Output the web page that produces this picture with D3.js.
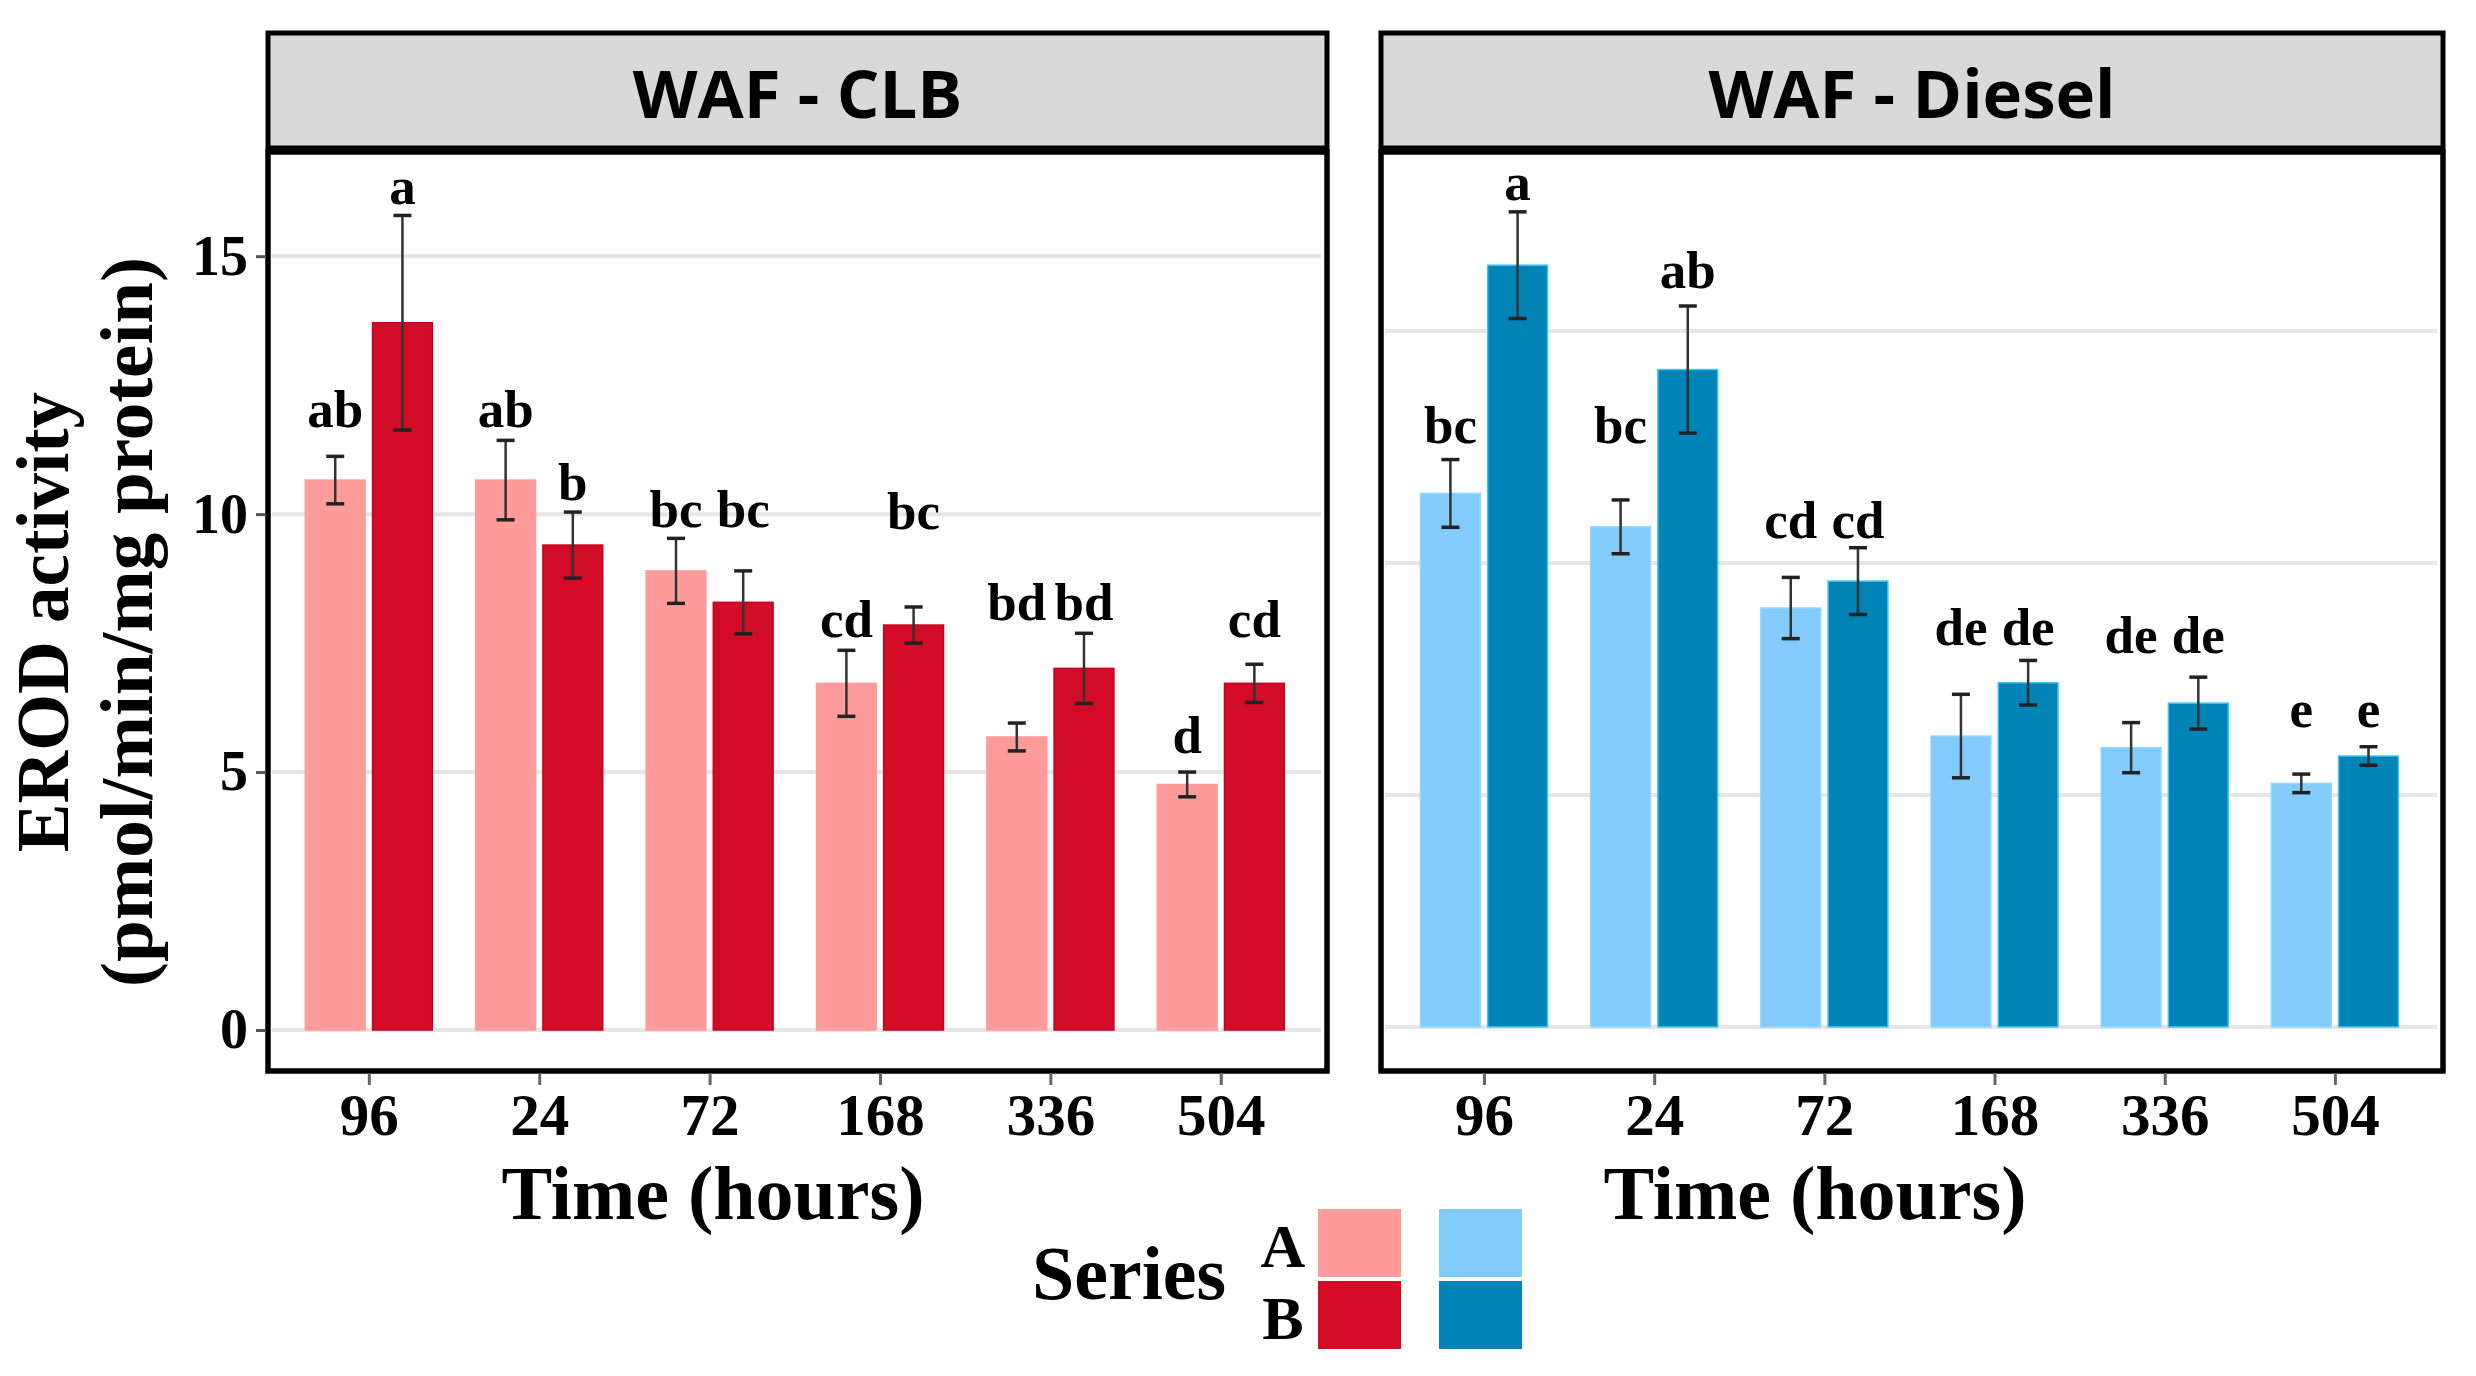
<!DOCTYPE html>
<html>
<head>
  <meta charset="utf-8">
  <title>EROD activity</title>
  <script src="https://d3js.org/d3.v7.min.js"></script>
  <style>
    body { margin: 0; background: #fff; }
    text { font-family: "Liberation Serif", "Times New Roman", serif; font-weight: bold; fill: #000; }
  </style>
</head>
<body>
  <svg id="chart" width="2476" height="1376"></svg>

  <script>
    // data
    const times = ["96", "24", "72", "168", "336", "504"];
    const series = ["A", "B"];

    const clbA = [10.66, 10.66, 8.90, 6.72, 5.68, 4.76];
    const clbAerr = [0.46, 0.77, 0.63, 0.64, 0.27, 0.24];
    const clbB = [13.71, 9.40, 8.29, 7.85, 7.01, 6.72];
    const clbBerr = [2.08, 0.64, 0.61, 0.35, 0.68, 0.37];
    const clbAlab = ["ab", "ab", "bc", "cd", "bd", "d"];
    const clbAlabY = [11.69, 11.69, 9.75, 7.62, 7.95, 5.36];
    const clbBlab = ["a", "b", "bc", "bc", "bd", "cd"];
    const clbBlabY = [16.02, 10.27, 9.75, 9.72, 7.95, 7.62];

    const dieA = [11.50, 10.78, 9.03, 6.27, 6.02, 5.25];
    const dieAerr = [0.73, 0.58, 0.66, 0.90, 0.54, 0.20];
    const dieB = [16.42, 14.17, 9.61, 7.42, 6.98, 5.84];
    const dieBerr = [1.15, 1.37, 0.72, 0.48, 0.56, 0.20];
    const dieAlab = ["bc", "bc", "cd", "de", "de", "e"];
    const dieAlabY = [12.59, 12.59, 10.53, 8.23, 8.05, 6.47];
    const dieBlab = ["a", "ab", "cd", "de", "de", "e"];
    const dieBlabY = [17.82, 15.92, 10.53, 8.23, 8.05, 6.47];

    const yTicks = [0, 5, 10, 15];

    const svg = d3.select("#chart");

    function rows(a, aErr, aLab, aLabY, b, bErr, bLab, bLabY) {
      const out = [];
      times.forEach((t, i) => {
        out.push({ time: t, s: "A", v: a[i], e: aErr[i], lab: aLab[i], ly: aLabY[i] });
        out.push({ time: t, s: "B", v: b[i], e: bErr[i], lab: bLab[i], ly: bLabY[i] });
      });
      return out;
    }

    const panels = [
      {
        title: "WAF - CLB", left: 268, right: 1327, xr: [266.6, 1323],
        ydom: [-0.795, 17.02], colors: { A: "#ff9b9b", B: "#d20c27" }, edge: { A: "#ff9b9b", B: "#c8001f" },
        data: rows(clbA, clbAerr, clbAlab, clbAlabY, clbB, clbBerr, clbBlab, clbBlabY),
        yLabels: true, titleX: 713
      },
      {
        title: "WAF - Diesel", left: 1381, right: 2443, xr: [1381.9, 2437],
        ydom: [-0.95, 18.86], colors: { A: "#83cbfa", B: "#0083b6" }, edge: { A: "#8fd8ff", B: "#3fc4ef" },
        data: rows(dieA, dieAerr, dieAlab, dieAlabY, dieB, dieBerr, dieBlab, dieBlabY),
        yLabels: false, titleX: 1815
      }
    ];

    const stripTop = 33, stripBottom = 148, plotTop = 152, plotBottom = 1071;

    panels.forEach(p => {
      const x = d3.scalePoint().domain(times).range(p.xr).padding(0.6);
      const x1 = d3.scaleBand().domain(series).range([-63.5, 63.5]).paddingInner(0.11);
      const y = d3.scaleLinear().domain(p.ydom).range([plotBottom, plotTop]);
      const g = svg.append("g");

      // gridlines
      g.selectAll(".grid")
        .data(yTicks)
        .enter().append("line")
        .attr("x1", p.left + 4).attr("x2", p.right - 6)
        .attr("y1", d => y(d)).attr("y2", d => y(d))
        .attr("stroke", "#e6e6e6").attr("stroke-width", 4);

      // bars
      g.selectAll(".bar")
        .data(p.data)
        .enter().append("rect")
        .attr("x", d => x(d.time) + x1(d.s))
        .attr("y", d => y(d.v))
        .attr("width", x1.bandwidth())
        .attr("height", d => y(0) - y(d.v))
        .attr("fill", d => p.colors[d.s])
        .attr("stroke", d => p.edge[d.s])
        .attr("stroke-width", 1.5);

      // error bars
      const eb = g.selectAll(".err")
        .data(p.data)
        .enter().append("g")
        .attr("transform", d => `translate(${x(d.time) + x1(d.s) + x1.bandwidth() / 2},0)`);
      eb.append("line")
        .attr("y1", d => y(d.v + d.e)).attr("y2", d => y(d.v - d.e))
        .attr("stroke", "#333").attr("stroke-width", 2.5);
      eb.selectAll(".cap")
        .data(d => [d.v + d.e, d.v - d.e])
        .enter().append("line")
        .attr("x1", -9).attr("x2", 9)
        .attr("y1", d => y(d)).attr("y2", d => y(d))
        .attr("stroke", "#222").attr("stroke-width", 3.5);

      // letters
      g.selectAll(".lab")
        .data(p.data)
        .enter().append("text")
        .attr("x", d => x(d.time) + x1(d.s) + x1.bandwidth() / 2)
        .attr("y", d => y(d.ly))
        .attr("text-anchor", "middle")
        .style("font-size", "53px")
        .text(d => d.lab);

      // strip
      g.append("rect")
        .attr("x", p.left).attr("y", stripTop)
        .attr("width", p.right - p.left).attr("height", stripBottom - stripTop)
        .attr("fill", "#d9d9d9").attr("stroke", "#000").attr("stroke-width", 5);
      g.append("text")
        .attr("x", (p.left + p.right) / 2).attr("y", 118)
        .attr("text-anchor", "middle")
        .style("font-family", "'Open Sans', sans-serif")
        .style("font-size", "67px")
        .text(p.title);

      // panel border
      g.append("rect")
        .attr("x", p.left).attr("y", plotTop)
        .attr("width", p.right - p.left).attr("height", plotBottom - plotTop)
        .attr("fill", "none").attr("stroke", "#000").attr("stroke-width", 5.5);

      // x axis
      const xa = g.append("g")
        .attr("transform", `translate(0,${plotBottom + 2})`)
        .call(d3.axisBottom(x).tickSize(12).tickPadding(8));
      xa.select(".domain").remove();
      xa.selectAll(".tick line").attr("stroke", "#666").attr("stroke-width", 3);
      xa.selectAll(".tick text")
        .style("font-family", "'Liberation Serif', serif")
        .style("font-weight", "bold")
        .style("font-size", "59px")
        .attr("fill", "#000");

      // y axis (labels only on first panel)
      if (p.yLabels) {
        const ya = g.append("g")
          .attr("transform", `translate(${p.left - 2},0)`)
          .call(d3.axisLeft(y).tickValues(yTicks).tickSize(10).tickPadding(8));
        ya.select(".domain").remove();
        ya.selectAll(".tick line").attr("stroke", "#555").attr("stroke-width", 3);
        ya.selectAll(".tick text")
          .style("font-family", "'Liberation Serif', serif")
          .style("font-weight", "bold")
          .style("font-size", "56px")
          .attr("fill", "#000");
      }

      // x title
      svg.append("text")
        .attr("x", p.titleX).attr("y", 1219)
        .attr("text-anchor", "middle")
        .style("font-size", "76px")
        .text("Time (hours)");
    });

    // y title
    const yt = svg.append("g").attr("transform", "translate(0,622) rotate(-90)");
    yt.append("text").attr("x", 0).attr("y", 68)
      .attr("text-anchor", "middle").style("font-size", "73px")
      .text("EROD activity");
    yt.append("text").attr("x", 0).attr("y", 152)
      .attr("text-anchor", "middle").style("font-size", "75px")
      .text("(pmol/min/mg protein)");

    // legend
    const legCols = [
      { A: "#ff9b9b", B: "#d20c27", x: 1318 },
      { A: "#83cbfa", B: "#0083b6", x: 1439 }
    ];
    const legRows = { A: 1209, B: 1281 };
    const leg = svg.append("g");
    leg.append("text").attr("x", 1032).attr("y", 1299).style("font-size", "76px").text("Series");
    series.forEach(s => {
      leg.append("text")
        .attr("x", 1283).attr("y", legRows[s] + 58)
        .attr("text-anchor", "middle").style("font-size", "62px")
        .text(s);
      legCols.forEach(c => {
        leg.append("rect")
          .attr("x", c.x).attr("y", legRows[s])
          .attr("width", 83).attr("height", 68)
          .attr("fill", c[s]);
      });
    });
  </script>
</body>
</html>
